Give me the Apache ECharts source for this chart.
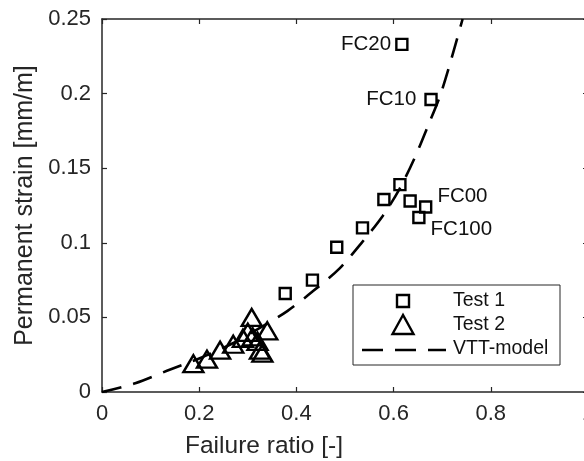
<!DOCTYPE html>
<html>
<head>
<meta charset="utf-8">
<script src="https://cdn.jsdelivr.net/npm/echarts@6/dist/echarts.min.js"></script>
<style>
html,body{margin:0;padding:0;background:#fff;}
#chart{width:584px;height:461px;}
</style>
</head>
<body>
<div id="chart"></div>
<script>
// Test 1 (squares)
var test1X = [0.377, 0.433, 0.483, 0.536, 0.580, 0.613, 0.634, 0.666, 0.652, 0.677, 0.617];
var test1Y = [0.066, 0.075, 0.097, 0.110, 0.129, 0.139, 0.128, 0.124, 0.117, 0.196, 0.233];
var test1Names = ['', '', '', '', '', '', '', 'FC00', 'FC100', 'FC10', 'FC20'];
// Test 2 (triangles)
var test2X = [0.188, 0.216, 0.243, 0.270, 0.290, 0.300, 0.308, 0.310, 0.320, 0.340, 0.325, 0.330];
var test2Y = [0.019, 0.022, 0.028, 0.032, 0.036, 0.040, 0.050, 0.037, 0.034, 0.041, 0.028, 0.026];
// VTT-model curve
var modelX = [0, 0.0685, 0.1336, 0.2, 0.265, 0.332, 0.382, 0.435, 0.489, 0.535, 0.578, 0.612, 0.644, 0.671, 0.695, 0.716, 0.742];
var modelY = [0, 0.0059, 0.0142, 0.0225, 0.032, 0.0444, 0.0544, 0.0678, 0.0829, 0.1003, 0.1182, 0.136, 0.1574, 0.1786, 0.198, 0.22, 0.25];
var xTicks = [0, 0.2, 0.4, 0.6, 0.8, 1];
var yTicks = [0, 0.05, 0.1, 0.15, 0.2, 0.25];
var legendNames = ['Test 1', 'Test 2', 'VTT-model'];

var axisColor = '#262626';
var fontFam = "'Liberation Sans', Arial, Helvetica, sans-serif";

// where each point label sits
var labelPlace = {
	'FC00': {position: 'right', distance: 5, offset: [0, -11]},
	'FC100': {position: 'right', distance: 5, offset: [0, 12]},
	'FC10': {position: 'left', distance: 8},
	'FC20': {position: 'left', distance: 4}
};

var sqData = [];
for (var i = 0; i < test1X.length; i++) {
	var item = {value: [test1X[i], test1Y[i]]};
	var nm = test1Names[i];
	if (nm) {
		var p = labelPlace[nm];
		item.label = {
			show: true, formatter: nm, position: p.position, distance: p.distance,
			offset: p.offset || [0, 0], fontSize: 20.5, color: '#111', fontFamily: fontFam
		};
	}
	sqData.push(item);
}
var triData = [];
for (var j = 0; j < test2X.length; j++) triData.push([test2X[j], test2Y[j]]);
var modelData = [];
for (var k = 0; k < modelX.length; k++) modelData.push([modelX[k], modelY[k]]);

function tickFmt(v) {
	return xTicks.indexOf(v) >= 0 || yTicks.indexOf(v) >= 0 ? String(v) : '';
}

var myChart = echarts.init(document.getElementById('chart'));
var option = {
	backgroundColor: '#fff',
	animation: false,
	grid: {left: 102, right: -4, top: 19, bottom: 69, containLabel: false, outerBoundsMode: 'none'},
	xAxis: [
		{
			type: 'value', min: 0, max: 1, interval: 0.2, position: 'bottom',
			name: 'Failure ratio [-]', nameLocation: 'middle', nameGap: 42,
			nameTextStyle: {fontSize: 24.5, color: axisColor, fontFamily: fontFam, padding: [0, 162, 0, 0]},
			axisLine: {show: true, onZero: false, lineStyle: {color: axisColor, width: 1.5}},
			axisTick: {show: true, inside: true, length: 5, lineStyle: {color: axisColor, width: 1.2}},
			axisLabel: {fontSize: 22, color: axisColor, fontFamily: fontFam, margin: 11, formatter: tickFmt},
			splitLine: {show: false}
		},
		{
			type: 'value', min: 0, max: 1, interval: 0.2, position: 'top',
			axisLine: {show: true, onZero: false, lineStyle: {color: axisColor, width: 1.5}},
			axisTick: {show: true, inside: true, length: 5, lineStyle: {color: axisColor, width: 1.2}},
			axisLabel: {show: false},
			splitLine: {show: false}
		}
	],
	yAxis: [
		{
			type: 'value', min: 0, max: 0.25, interval: 0.05, position: 'left',
			name: 'Permanent strain [mm/m]', nameLocation: 'middle', nameGap: 64,
			nameTextStyle: {fontSize: 25, color: axisColor, fontFamily: fontFam},
			axisLine: {show: true, onZero: false, lineStyle: {color: axisColor, width: 1.5}},
			axisTick: {show: true, inside: true, length: 5, lineStyle: {color: axisColor, width: 1.2}},
			axisLabel: {fontSize: 22, color: axisColor, fontFamily: fontFam, margin: 11, formatter: tickFmt},
			splitLine: {show: false}
		},
		{
			type: 'value', min: 0, max: 0.25, interval: 0.05, position: 'right',
			axisLine: {show: true, onZero: false, lineStyle: {color: axisColor, width: 1.5}},
			axisTick: {show: true, inside: true, length: 5, lineStyle: {color: axisColor, width: 1.2}},
			axisLabel: {show: false},
			splitLine: {show: false}
		}
	],
	series: [
		{
			name: legendNames[2], type: 'line', data: modelData, smooth: 0.3,
			showSymbol: false, silent: true, z: 2,
			lineStyle: {color: '#000', width: 2.6, type: [20, 12]}
		},
		{
			name: legendNames[0], type: 'scatter', data: sqData, symbol: 'rect', symbolSize: 11, z: 3,
			itemStyle: {color: 'rgba(0,0,0,0)', borderColor: '#000', borderWidth: 2.4, opacity: 1}
		},
		{
			name: legendNames[1], type: 'scatter', data: triData, symbol: 'triangle', symbolSize: [20, 17], z: 3,
			itemStyle: {color: 'rgba(0,0,0,0)', borderColor: '#000', borderWidth: 2.4, opacity: 1}
		}
	],
	// legend box drawn by hand, MATLAB style
	graphic: [
		{type: 'rect', z: 10, shape: {x: 353, y: 285, width: 207, height: 80},
			style: {fill: '#fff', stroke: axisColor, lineWidth: 1}},
		{type: 'rect', z: 11, shape: {x: 397, y: 295, width: 12, height: 12},
			style: {fill: 'none', stroke: '#000', lineWidth: 2.4}},
		{type: 'polygon', z: 11, shape: {points: [[403, 315], [392.5, 334], [413.5, 334]]},
			style: {fill: 'none', stroke: '#000', lineWidth: 2.4}},
		{type: 'line', z: 11, shape: {x1: 362, y1: 350, x2: 446, y2: 350},
			style: {stroke: '#000', lineWidth: 2.6, lineDash: [21, 12]}},
		{type: 'text', z: 11, style: {x: 453, y: 301, text: legendNames[0], fontSize: 19.5, fontFamily: fontFam, fill: '#111', verticalAlign: 'middle'}},
		{type: 'text', z: 11, style: {x: 453, y: 325, text: legendNames[1], fontSize: 19.5, fontFamily: fontFam, fill: '#111', verticalAlign: 'middle'}},
		{type: 'text', z: 11, style: {x: 453, y: 349, text: legendNames[2], fontSize: 19.5, fontFamily: fontFam, fill: '#111', verticalAlign: 'middle'}}
	]
};
myChart.setOption(option);
</script>
</body>
</html>
